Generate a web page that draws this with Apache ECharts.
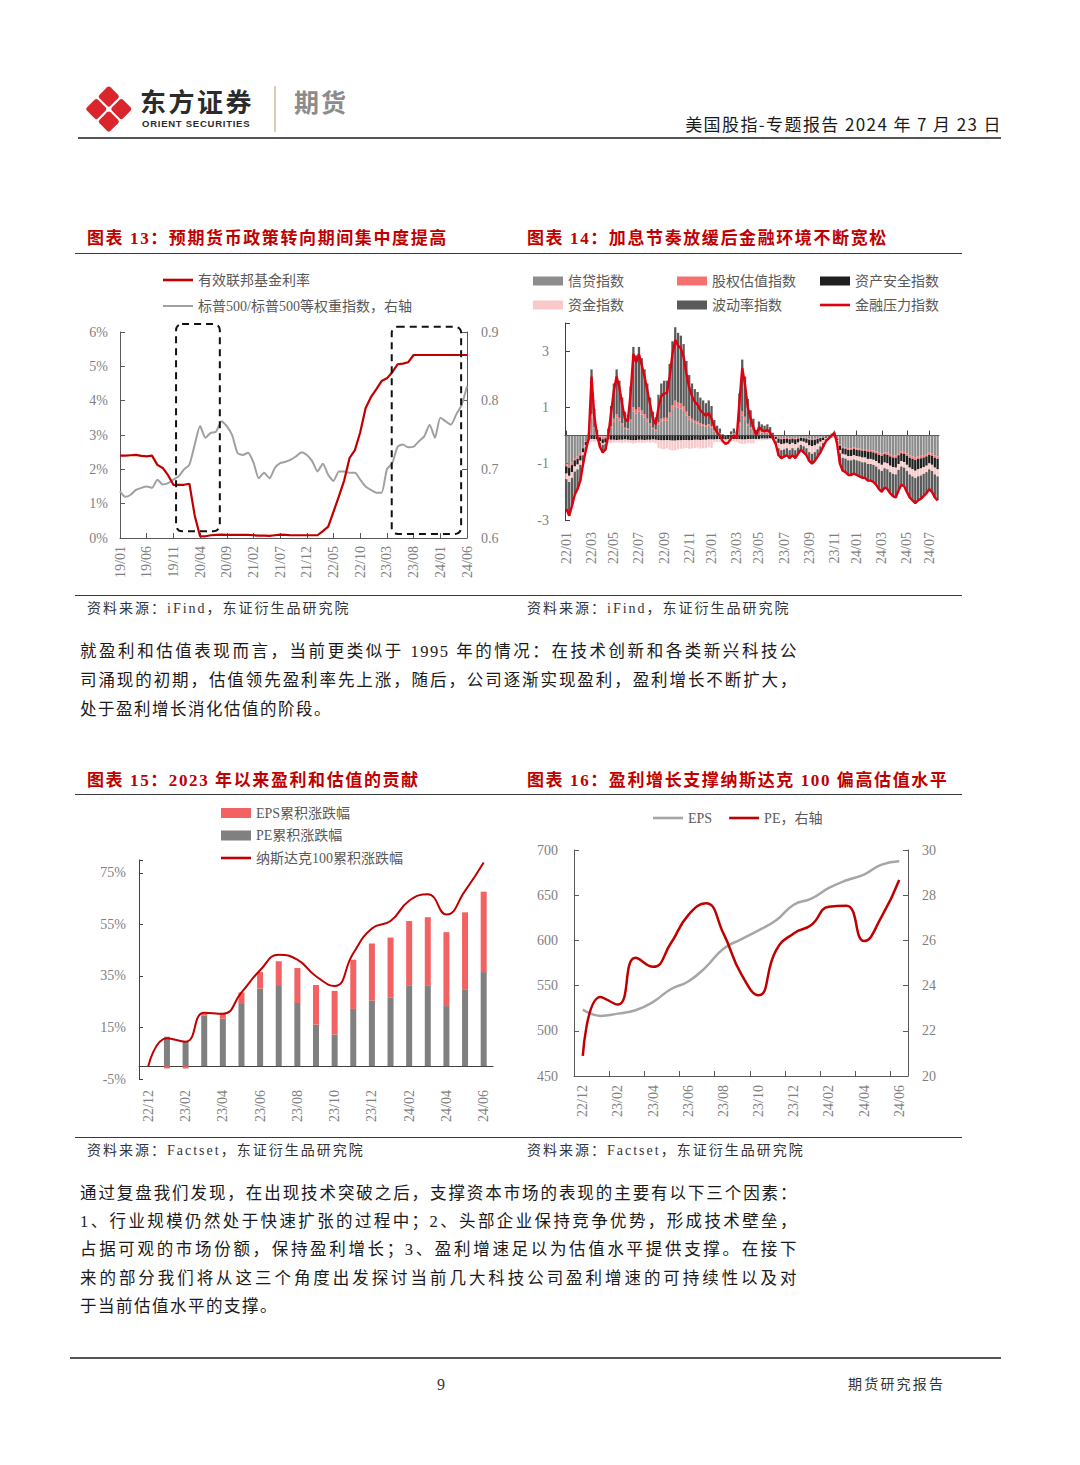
<!DOCTYPE html>
<html><head><meta charset="utf-8">
<script src="https://cdn.jsdelivr.net/npm/echarts@6.0.0/dist/echarts.min.js"></script>
<style>
html,body{margin:0;padding:0;background:#fff;}
#page{position:relative;width:1080px;height:1465px;overflow:hidden;background:#fff;}
#chart{position:absolute;left:0;top:0;width:1080px;height:1465px;}
.ab{position:absolute;white-space:nowrap;line-height:1;font-family:'Liberation Serif','Noto Sans CJK SC',serif;color:#1a1a1a;}
.rule{position:absolute;height:1px;background:#3a3a3a;}
.title{font-size:17px;font-weight:bold;color:#C00000;letter-spacing:1.6px;}
.src{font-size:14px;letter-spacing:2px;color:#333;}
.p{font-size:16.5px;letter-spacing:1.5px;width:718px;left:80px;}
.j{text-align:justify;text-align-last:justify;}
</style></head>
<body>
<div id="page">
<div id="chart"></div>

<!-- header -->
<svg class="ab" style="left:80px;top:80px" width="60" height="60" viewBox="80 80 60 60">
  <g fill="#D9262C">
    <rect x="-7.8" y="-7.8" width="15.6" height="15.6" rx="2.5" transform="translate(108.8,96.6) rotate(45)"/>
    <rect x="-7.8" y="-7.8" width="15.6" height="15.6" rx="2.5" transform="translate(121.3,109.1) rotate(45)"/>
    <rect x="-7.8" y="-7.8" width="15.6" height="15.6" rx="2.5" transform="translate(108.8,121.6) rotate(45)"/>
    <rect x="-7.8" y="-7.8" width="15.6" height="15.6" rx="2.5" transform="translate(96.3,109.1) rotate(45)"/>
  </g>
</svg>
<div class="ab" style="left:140px;top:88px;font-family:'Noto Sans CJK SC';font-weight:bold;font-size:26px;letter-spacing:2.5px;color:#2b2b2b">东方证券</div>
<div class="ab" style="left:142px;top:118.5px;font-family:'Liberation Sans',Arial,sans-serif;font-weight:bold;font-size:9.5px;letter-spacing:0.75px;color:#2b2b2b">ORIENT SECURITIES</div>
<div class="ab" style="left:274px;top:86px;width:1.5px;height:46px;background:#d8cfb6"></div>
<div class="ab" style="left:294px;top:89px;font-family:'Noto Sans CJK SC';font-weight:bold;font-size:25px;letter-spacing:2px;color:#8c8c8c">期货</div>
<div class="ab" style="right:78px;top:115px;font-family:'Noto Sans CJK SC';font-size:17px;letter-spacing:1.4px;color:#1a1a1a">美国股指-专题报告 2024 年 7 月 23 日</div>
<div class="ab" style="left:78px;top:137px;width:923px;height:2px;background:#555"></div>

<!-- section 1 -->
<div class="ab title" style="left:87px;top:229.5px">图表 13：预期货币政策转向期间集中度提高</div>
<div class="ab title" style="left:527px;top:229.5px">图表 14：加息节奏放缓后金融环境不断宽松</div>
<div class="rule" style="left:75px;top:252.5px;width:887px"></div>
<div class="rule" style="left:75px;top:594.5px;width:887px"></div>
<div class="ab src" style="left:87px;top:602px">资料来源：iFind，东证衍生品研究院</div>
<div class="ab src" style="left:527px;top:602px">资料来源：iFind，东证衍生品研究院</div>

<div class="ab p j" style="top:643.5px">就盈利和估值表现而言，当前更类似于 1995 年的情况：在技术创新和各类新兴科技公</div>
<div class="ab p j" style="top:672.5px">司涌现的初期，估值领先盈利率先上涨，随后，公司逐渐实现盈利，盈利增长不断扩大，</div>
<div class="ab p" style="top:701.5px">处于盈利增长消化估值的阶段。</div>

<!-- section 2 -->
<div class="ab title" style="left:87px;top:771.5px">图表 15：2023 年以来盈利和估值的贡献</div>
<div class="ab title" style="left:527px;top:771.5px">图表 16：盈利增长支撑纳斯达克 100 偏高估值水平</div>
<div class="rule" style="left:75px;top:793.5px;width:887px"></div>
<div class="rule" style="left:75px;top:1136.5px;width:887px"></div>
<div class="ab src" style="left:87px;top:1144px">资料来源：Factset，东证衍生品研究院</div>
<div class="ab src" style="left:527px;top:1144px">资料来源：Factset，东证衍生品研究院</div>

<div class="ab p j" style="top:1185.5px">通过复盘我们发现，在出现技术突破之后，支撑资本市场的表现的主要有以下三个因素：</div>
<div class="ab p j" style="top:1213.5px">1、行业规模仍然处于快速扩张的过程中；2、头部企业保持竞争优势，形成技术壁垒，</div>
<div class="ab p j" style="top:1241.5px">占据可观的市场份额，保持盈利增长；3、盈利增速足以为估值水平提供支撑。在接下</div>
<div class="ab p j" style="top:1270.5px">来的部分我们将从这三个角度出发探讨当前几大科技公司盈利增速的可持续性以及对</div>
<div class="ab p" style="top:1298.5px">于当前估值水平的支撑。</div>

<!-- footer -->
<div class="ab" style="left:70px;top:1357px;width:931px;height:2px;background:#555"></div>
<div class="ab" style="left:437px;top:1377px;font-size:16px;color:#333">9</div>
<div class="ab" style="left:848px;top:1378px;font-size:14px;letter-spacing:2.2px;color:#333">期货研究报告</div>
</div>

<script>
const SERIF = "'Liberation Serif','Noto Sans CJK SC',serif";

/* ---------- Chart 13 data ---------- */
const months13 = [];
for (let y = 19; y <= 24; y++) for (let m = 1; m <= 12; m++) { if (y === 24 && m > 6) break; months13.push(y + '/' + String(m).padStart(2, '0')); }
const fedRate13 = [
  2.40,2.40,2.41,2.42,2.39,2.38,2.40,2.13,2.04,1.83,1.55,1.55,
  1.55,1.58,0.65,0.05,0.05,0.08,0.09,0.10,0.09,0.09,0.09,0.09,
  0.09,0.08,0.07,0.07,0.06,0.08,0.10,0.09,0.08,0.08,0.08,0.08,
  0.08,0.08,0.20,0.33,0.77,1.21,1.68,2.33,2.56,3.08,3.78,4.10,
  4.33,4.57,4.65,4.83,5.06,5.08,5.12,5.33,5.33,5.33,5.33,5.33,
  5.33,5.33,5.33,5.33,5.33,5.33];
const spxRatio13 = [
  0.668,0.660,0.663,0.670,0.673,0.675,0.673,0.685,0.678,0.680,0.685,0.690,
  0.700,0.707,0.736,0.763,0.746,0.753,0.755,0.770,0.763,0.750,0.724,0.721,
  0.724,0.710,0.687,0.695,0.687,0.702,0.709,0.711,0.714,0.719,0.725,0.721,
  0.712,0.697,0.708,0.692,0.683,0.697,0.697,0.695,0.695,0.685,0.675,0.670,
  0.666,0.666,0.700,0.709,0.733,0.736,0.732,0.733,0.741,0.748,0.765,0.746,
  0.775,0.770,0.765,0.780,0.794,0.821];
// dashed highlight boxes: category index range and % range
const boxes13 = [
  {from: 10.5, to: 18.7, low: 0.2, high: 6.23},
  {from: 50.9, to: 63.9, low: 0.12, high: 6.15}
];

/* ---------- Chart 14 data (weekly, from 2022-01-03) ---------- */
const credit14 = [
  -1.0,-1.05,-0.95,-0.8,-0.75,-0.65,-0.4,-0.2,0.05,
  0.64,0.26,0.05,-0.02,-0.04,-0.03,0.08,0.29,0.51,0.64,0.53,0.37,0.24,0.21,0.48,0.85,0.78,0.85,0.75,0.64,0.51,0.37,0.24,0.18,
  0.40,0.51,0.53,0.53,0.69,0.91,1.04,0.99,0.96,0.88,0.72,0.58,0.51,0.45,0.42,0.37,0.35,0.31,0.35,0.29,
  0.15,0.10,0.08,0.01,-0.01,0,0.04,0.08,0.04,0.40,0.72,0.56,0.35,0.24,0.16,0.05,0.13,0.11,0.10,0.11,0.08,0.02,
  -0.04,-0.08,-0.10,-0.09,-0.08,-0.10,-0.08,-0.10,-0.08,-0.06,-0.07,-0.08,-0.11,-0.12,-0.11,-0.09,-0.07,-0.05,-0.02,-0.01,0.05,0.12,
  -0.10,-0.32,-0.40,-0.42,-0.45,-0.45,-0.43,-0.45,-0.46,-0.48,-0.48,-0.51,-0.51,-0.53,-0.56,-0.61,-0.64,-0.59,-0.61,-0.66,-0.69,-0.70,-0.62,-0.56,-0.58,-0.64,-0.70,-0.74,-0.77,-0.74,-0.72,-0.69,-0.66,-0.61,-0.64,-0.70,-0.74];
const equity14 = [
  -0.1,-0.1,-0.1,-0.08,-0.08,-0.06,-0.05,-0.03,0.02,
  0.12,0.05,0.01,-0.04,-0.09,-0.07,0.01,0.05,0.09,0.12,0.10,0.07,0.04,0.04,0.09,0.16,0.14,0.16,0.14,0.12,0.09,0.07,0.04,0.03,
  0.07,0.09,0.10,0.10,0.13,0.17,0.20,0.18,0.18,0.17,0.13,0.11,0.09,0.08,0.08,0.07,0.06,0.06,0.06,0.05,
  0.03,0.02,0.01,0.01,-0.01,0,0.01,0.01,0.01,0.08,0.14,0.11,0.07,0.05,0.03,0.01,0.03,0.02,0.02,0.02,0.02,0.01,
  -0.01,-0.03,-0.03,-0.03,-0.03,-0.03,-0.03,-0.03,-0.03,-0.02,-0.02,-0.03,-0.04,-0.04,-0.04,-0.03,-0.02,-0.02,-0.01,0,0.02,0.03,
  -0.01,-0.04,-0.05,-0.05,-0.06,-0.06,-0.05,-0.06,-0.06,-0.06,-0.06,-0.06,-0.06,-0.07,-0.07,-0.08,-0.08,-0.07,-0.08,-0.08,-0.09,-0.09,-0.08,-0.07,-0.07,-0.08,-0.09,-0.09,-0.10,-0.09,-0.09,-0.09,-0.08,-0.08,-0.08,-0.09,-0.09];
const safety14 = [
  -0.25,-0.28,-0.25,-0.22,-0.2,-0.18,-0.15,-0.12,-0.1,
  -0.12,-0.13,-0.14,-0.15,-0.15,-0.15,-0.14,-0.15,-0.15,-0.16,-0.15,-0.15,-0.14,-0.15,-0.16,-0.17,-0.16,-0.15,-0.15,-0.16,-0.15,-0.15,-0.14,-0.15,
  -0.16,-0.17,-0.17,-0.16,-0.17,-0.18,-0.18,-0.17,-0.17,-0.16,-0.16,-0.17,-0.16,-0.15,-0.15,-0.16,-0.15,-0.15,-0.14,-0.14,
  -0.14,-0.13,-0.13,-0.13,-0.12,-0.12,-0.12,-0.12,-0.12,-0.13,-0.14,-0.14,-0.13,-0.13,-0.12,-0.12,-0.12,-0.11,-0.11,-0.11,-0.10,-0.10,
  -0.07,-0.15,-0.18,-0.17,-0.15,-0.18,-0.15,-0.18,-0.14,-0.11,-0.13,-0.15,-0.20,-0.22,-0.20,-0.17,-0.13,-0.09,-0.05,-0.03,-0.03,-0.02,
  -0.05,-0.16,-0.20,-0.21,-0.22,-0.22,-0.22,-0.22,-0.23,-0.24,-0.24,-0.26,-0.26,-0.26,-0.28,-0.30,-0.32,-0.30,-0.30,-0.33,-0.34,-0.35,-0.31,-0.28,-0.29,-0.32,-0.35,-0.37,-0.38,-0.37,-0.36,-0.34,-0.33,-0.30,-0.32,-0.35,-0.37];
const funding14 = [
  -0.2,-0.22,-0.2,-0.18,-0.17,-0.15,-0.1,-0.05,0.0,
  -0.1,-0.1,-0.05,-0.05,-0.05,-0.05,-0.1,-0.12,-0.1,-0.08,-0.1,-0.11,-0.1,-0.09,-0.1,-0.12,-0.1,-0.1,-0.11,-0.1,-0.09,-0.1,-0.1,-0.12,
  -0.28,-0.3,-0.32,-0.3,-0.33,-0.35,-0.34,-0.32,-0.3,-0.3,-0.28,-0.3,-0.3,-0.3,-0.28,-0.3,-0.3,-0.3,-0.28,-0.3,
  -0.1,-0.1,-0.09,-0.1,-0.11,-0.1,-0.1,-0.09,-0.1,-0.15,-0.16,-0.15,-0.14,-0.15,-0.15,-0.05,-0.05,-0.06,-0.05,-0.05,-0.04,-0.05,
  -0.08,-0.19,-0.21,-0.2,-0.19,-0.21,-0.19,-0.21,-0.18,-0.14,-0.16,-0.19,-0.24,-0.27,-0.24,-0.2,-0.16,-0.11,-0.05,-0.03,-0.02,-0.01,
  -0.03,-0.11,-0.14,-0.14,-0.15,-0.15,-0.15,-0.15,-0.16,-0.17,-0.17,-0.18,-0.18,-0.18,-0.19,-0.21,-0.22,-0.20,-0.21,-0.23,-0.24,-0.24,-0.21,-0.19,-0.20,-0.22,-0.24,-0.25,-0.26,-0.25,-0.25,-0.24,-0.23,-0.21,-0.22,-0.24,-0.25];
const vol14 = [
  -1.05,-1.2,-1.0,-0.82,-0.7,-0.56,-0.3,-0.1,-0.07,
  1.59,0.64,0.14,-0.14,-0.27,-0.20,0.16,0.71,1.25,1.59,1.32,0.91,0.57,0.50,1.18,2.14,1.93,2.14,1.86,1.59,1.25,0.91,0.57,0.44,
  0.98,1.25,1.32,1.32,1.73,2.27,2.61,2.48,2.41,2.20,1.80,1.46,1.25,1.12,1.05,0.91,0.84,0.78,0.84,0.71,
  0.37,0.23,0.16,0.03,-0.03,0,0.10,0.16,0.10,1.02,1.84,1.43,0.88,0.61,0.41,0.14,0.34,0.27,0.23,0.27,0.20,0.07,
  -0.10,-0.25,-0.28,-0.26,-0.25,-0.28,-0.25,-0.28,-0.22,-0.17,-0.22,-0.25,-0.31,-0.35,-0.31,-0.26,-0.22,-0.13,-0.07,-0.03,-0.02,-0.02,
  -0.11,-0.37,-0.46,-0.48,-0.52,-0.52,-0.50,-0.52,-0.54,-0.55,-0.55,-0.59,-0.59,-0.61,-0.65,-0.70,-0.74,-0.69,-0.70,-0.75,-0.79,-0.82,-0.73,-0.65,-0.66,-0.74,-0.82,-0.85,-0.89,-0.85,-0.83,-0.79,-0.75,-0.70,-0.74,-0.82,-0.85];
const stress14 = [
  -2.6,-2.85,-2.5,-2.1,-1.9,-1.6,-1.0,-0.5,-0.1,
  2.1,0.7,0.0,-0.4,-0.6,-0.5,0.0,0.8,1.6,2.1,1.7,1.1,0.6,0.5,1.5,2.9,2.6,2.9,2.5,2.1,1.6,1.1,0.6,0.4,
  1.0,1.4,1.5,1.5,2.1,2.9,3.4,3.2,3.1,2.8,2.2,1.7,1.4,1.2,1.1,0.9,0.8,0.7,0.8,0.6,
  0.3,0.1,0.0,-0.2,-0.3,-0.25,-0.1,0.0,-0.1,1.2,2.4,1.8,1.0,0.6,0.3,0.0,0.3,0.2,0.15,0.2,0.1,-0.1,
  -0.3,-0.7,-0.8,-0.75,-0.7,-0.8,-0.7,-0.8,-0.65,-0.5,-0.6,-0.7,-0.9,-1.0,-0.9,-0.75,-0.6,-0.4,-0.2,-0.1,0.0,0.1,
  -0.3,-1.0,-1.25,-1.3,-1.4,-1.4,-1.35,-1.4,-1.45,-1.5,-1.5,-1.6,-1.6,-1.65,-1.75,-1.9,-2.0,-1.85,-1.9,-2.05,-2.15,-2.2,-1.95,-1.75,-1.8,-2.0,-2.2,-2.3,-2.4,-2.3,-2.25,-2.15,-2.05,-1.9,-2.0,-2.2,-2.3];
const weeks14 = stress14.map((_, i) => new Date(Date.UTC(2022, 0, 3 + 7 * i)).toISOString().slice(0, 10));

/* ---------- Chart 15 / 16 data ---------- */
const months15 = ['22/12','23/01','23/02','23/03','23/04','23/05','23/06','23/07','23/08','23/09','23/10','23/11','23/12','24/01','24/02','24/03','24/04','24/05','24/06'];
const pe15  = [0, 11.4, 9.8, 19.7, 18.4, 24.1, 30.1, 31.1, 24.5, 16.1, 12.3, 22.2, 25.4, 26.7, 31.4, 31.4, 23.3, 29.6, 36.5];
const eps15 = [0, -0.9, -0.9, 0.6, 1.9, 4.5, 6.4, 9.6, 13.6, 15.4, 16.9, 19.1, 22.2, 23.2, 24.9, 26.4, 28.7, 30.1, 31.2];
const ndx15 = [0, 10.8, 9.5, 20.7, 20.3, 28.6, 37.2, 43.2, 41.3, 34.9, 31.1, 43.8, 53.4, 56.3, 64.2, 66.7, 58.8, 68.0, 79.0];
const eps16 = [523.5, 516.5, 519, 522.7, 532, 546, 554.6, 570.5, 590.8, 601.1, 611.1, 622.2, 639.5, 646.2, 658, 666.5, 672.8, 683.9, 687.6];
const pe16  = [20.89, 23.5, 23.16, 25.23, 24.83, 25.86, 27.12, 27.64, 26.31, 24.53, 23.57, 25.57, 26.31, 26.68, 27.49, 27.53, 25.97, 27.05, 28.67];

/* ---------- build ---------- */
const showWeek = (i) => {
  if (i === 0) return true;
  const m = +weeks14[i].slice(5, 7), pm = +weeks14[i - 1].slice(5, 7);
  return m !== pm && m % 2 === 1;
};
const AX = '#595959';
const axLine = (c) => ({show: true, onZero: false, lineStyle: {color: c || AX, width: 1}});
const lab = (extra) => Object.assign({color: '#7f7f7f', fontSize: 14, fontFamily: SERIF}, extra || {});
const tickIn = (extra) => Object.assign({show: true, inside: true, length: 5, lineStyle: {color: AX}}, extra || {});
const legText = {color: '#595959', fontSize: 14, fontFamily: SERIF, lineHeight: 14};
const noSplit = {show: false};
const LINE_ICON = 'path://M0,0H30V2.6H0Z';
const LINE_ICON_THIN = 'path://M0,0H30V2H0Z';

const chart = echarts.init(document.getElementById('chart'), null, {renderer: 'svg', width: 1080, height: 1465});

const legBase = {padding: 0, selectedMode: false, textStyle: legText, itemWidth: 30, symbolKeepAspect: true};
const option = {
  animation: false,
  backgroundColor: 'transparent',
  textStyle: {fontFamily: SERIF},
  grid: [
    {left: 120, top: 332, width: 347, height: 206, containLabel: false, outerBoundsMode: 'none'},
    {left: 565, top: 323, width: 374, height: 197, containLabel: false, outerBoundsMode: 'none'},
    {left: 139, top: 860, width: 354, height: 219, containLabel: false, outerBoundsMode: 'none'},
    {left: 574, top: 850, width: 334, height: 226, containLabel: false, outerBoundsMode: 'none'}
  ],
  xAxis: [
    {gridIndex: 0, type: 'category', data: months13, boundaryGap: false, position: 'bottom',
     axisLine: axLine(), axisTick: tickIn({interval: 4}), axisLabel: lab({rotate: 90, interval: 4, margin: 8}), splitLine: noSplit},
    {gridIndex: 1, type: 'category', data: weeks14, boundaryGap: true, position: 'bottom',
     axisLine: {show: false, onZero: false}, axisTick: {show: false},
     axisLabel: lab({rotate: 90, interval: (i) => showWeek(i), margin: 12, formatter: (v) => v.slice(2, 4) + '/' + v.slice(5, 7)}), splitLine: noSplit},
    {gridIndex: 1, type: 'category', data: weeks14, boundaryGap: true, position: 'bottom',
     axisLine: {show: true, onZero: true, lineStyle: {color: '#404040'}},
     axisTick: {show: true, inside: true, length: 5, alignWithLabel: true, interval: (i) => showWeek(i), lineStyle: {color: '#404040'}},
     axisLabel: {show: false}, splitLine: noSplit},
    {gridIndex: 2, type: 'category', data: months15, boundaryGap: true, position: 'bottom',
     axisLine: {show: false, onZero: false}, axisTick: {show: false}, axisLabel: lab({rotate: 90, interval: 1, margin: 11}), splitLine: noSplit},
    {gridIndex: 2, type: 'category', data: months15, boundaryGap: true, position: 'bottom',
     axisLine: {show: true, onZero: true, lineStyle: {color: '#404040'}}, axisTick: {show: false}, axisLabel: {show: false}, splitLine: noSplit},
    {gridIndex: 3, type: 'category', data: months15, boundaryGap: true, position: 'bottom',
     axisLine: axLine(), axisTick: tickIn({interval: 1}), axisLabel: lab({rotate: 90, interval: 1, margin: 9}), splitLine: noSplit}
  ],
  yAxis: [
    {gridIndex: 0, type: 'value', min: 0, max: 6, interval: 1, axisLine: axLine(), axisTick: tickIn(),
     axisLabel: lab({formatter: '{value}%', margin: 12}), splitLine: noSplit},
    {gridIndex: 0, type: 'value', position: 'right', min: 0.6, max: 0.9, interval: 0.1, axisLine: axLine(), axisTick: tickIn(),
     axisLabel: lab({formatter: (v) => v.toFixed(1), margin: 14}), splitLine: noSplit},
    {gridIndex: 1, type: 'value', min: -3, max: 4, interval: 2, axisLine: axLine('#404040'), axisTick: tickIn({lineStyle: {color: '#404040'}}),
     axisLabel: lab({formatter: (v) => (v === 4 ? '' : String(v)), margin: 16}), splitLine: noSplit},
    {gridIndex: 2, type: 'value', min: -5, max: 80, interval: 20, axisLine: axLine('#404040'), axisTick: tickIn({length: 4, lineStyle: {color: '#404040'}}),
     axisLabel: lab({formatter: (v) => (v === 80 ? '' : v + '%'), margin: 13}), splitLine: noSplit},
    {gridIndex: 3, type: 'value', min: 450, max: 700, interval: 50, axisLine: axLine(), axisTick: tickIn(),
     axisLabel: lab({margin: 16}), splitLine: noSplit},
    {gridIndex: 3, type: 'value', position: 'right', min: 20, max: 30, interval: 2, axisLine: axLine(), axisTick: tickIn(),
     axisLabel: lab({margin: 14}), splitLine: noSplit}
  ],
  legend: [
    Object.assign({}, legBase, {left: 163, top: 273, orient: 'vertical', itemHeight: 14, itemGap: 12,
     data: [{name: '有效联邦基金利率', icon: LINE_ICON}, {name: '标普500/标普500等权重指数，右轴', icon: LINE_ICON_THIN}]}),
    Object.assign({}, legBase, {left: 533, top: 274, orient: 'vertical', itemHeight: 9, itemGap: 10,
     data: [{name: '信贷指数', icon: 'rect'}, {name: '资金指数', icon: 'rect'}]}),
    Object.assign({}, legBase, {left: 677, top: 274, orient: 'vertical', itemHeight: 9, itemGap: 10,
     data: [{name: '股权估值指数', icon: 'rect'}, {name: '波动率指数', icon: 'rect'}]}),
    Object.assign({}, legBase, {left: 820, top: 274, orient: 'vertical', itemHeight: 9, itemGap: 10,
     data: [{name: '资产安全指数', icon: 'rect'}, {name: '金融压力指数', icon: LINE_ICON}]}),
    Object.assign({}, legBase, {left: 221, top: 806, orient: 'vertical', itemHeight: 10, itemGap: 8.5,
     data: [{name: 'EPS累积涨跌幅', icon: 'rect'}, {name: 'PE累积涨跌幅', icon: 'rect'}, {name: '纳斯达克100累积涨跌幅', icon: LINE_ICON}]}),
    Object.assign({}, legBase, {left: 653, top: 811, orient: 'horizontal', itemHeight: 14, itemGap: 17,
     data: [{name: 'EPS', icon: LINE_ICON}, {name: 'PE，右轴', icon: LINE_ICON}]})
  ],
  series: [
    {name: '有效联邦基金利率', type: 'line', xAxisIndex: 0, yAxisIndex: 0, data: fedRate13, symbol: 'none',
     lineStyle: {color: '#C00000', width: 2.2}, itemStyle: {color: '#C00000'}, z: 4},
    {name: '标普500/标普500等权重指数，右轴', type: 'line', xAxisIndex: 0, yAxisIndex: 1, data: spxRatio13, symbol: 'none', smooth: 0.2,
     lineStyle: {color: '#A0A0A0', width: 2}, itemStyle: {color: '#A0A0A0'}, z: 3},

    {name: '信贷指数', type: 'bar', xAxisIndex: 1, yAxisIndex: 2, stack: 'fci', data: credit14, barCategoryGap: '18%', itemStyle: {color: '#8C8C8C'}},
    {name: '股权估值指数', type: 'bar', xAxisIndex: 1, yAxisIndex: 2, stack: 'fci', data: equity14, itemStyle: {color: '#F4716F'}},
    {name: '资产安全指数', type: 'bar', xAxisIndex: 1, yAxisIndex: 2, stack: 'fci', data: safety14, itemStyle: {color: '#1F1F1F'}},
    {name: '资金指数', type: 'bar', xAxisIndex: 1, yAxisIndex: 2, stack: 'fci', data: funding14, itemStyle: {color: '#F9C9C9'}},
    {name: '波动率指数', type: 'bar', xAxisIndex: 1, yAxisIndex: 2, stack: 'fci', data: vol14, itemStyle: {color: '#5A5A5A'}},
    {name: '金融压力指数', type: 'line', xAxisIndex: 1, yAxisIndex: 2, data: stress14, symbol: 'none',
     lineStyle: {color: '#E0000F', width: 2.4}, itemStyle: {color: '#E0000F'}, z: 5},

    {name: 'PE累积涨跌幅', type: 'bar', xAxisIndex: 3, yAxisIndex: 3, stack: 'ndx', data: pe15, barWidth: 6, itemStyle: {color: '#808080'}},
    {name: 'EPS累积涨跌幅', type: 'bar', xAxisIndex: 3, yAxisIndex: 3, stack: 'ndx', data: eps15, barWidth: 6, itemStyle: {color: '#F26262'}},
    {name: '纳斯达克100累积涨跌幅', type: 'line', xAxisIndex: 3, yAxisIndex: 3, data: ndx15, symbol: 'none', smooth: true,
     lineStyle: {color: '#C00000', width: 2}, itemStyle: {color: '#C00000'}, z: 5},

    {name: 'EPS', type: 'line', xAxisIndex: 5, yAxisIndex: 4, data: eps16, symbol: 'none', smooth: true,
     lineStyle: {color: '#A6A6A6', width: 2.5}, itemStyle: {color: '#A6A6A6'}},
    {name: 'PE，右轴', type: 'line', xAxisIndex: 5, yAxisIndex: 5, data: pe16, symbol: 'none', smooth: true,
     lineStyle: {color: '#C00000', width: 2.5}, itemStyle: {color: '#C00000'}}
  ]
};
chart.setOption(option);

// dashed highlight boxes in chart 13, placed through the chart's own scales
function px13(ix, v) {
  const f = Math.floor(ix);
  const a = chart.convertToPixel({xAxisIndex: 0, yAxisIndex: 0}, [f, v]);
  const b = chart.convertToPixel({xAxisIndex: 0, yAxisIndex: 0}, [f + 1, v]);
  return [a[0] + (b[0] - a[0]) * (ix - f), a[1]];
}
const boxGraphics = boxes13.map((b) => {
  const p0 = px13(b.from, b.high), p1 = px13(b.to, b.low);
  return {type: 'rect', z: 100, silent: true,
    shape: {x: p0[0], y: p0[1], width: p1[0] - p0[0], height: p1[1] - p0[1], r: 6},
    style: {fill: 'none', stroke: '#111', lineWidth: 2, lineDash: [7, 5]}};
});
chart.setOption({graphic: boxGraphics});
</script>
</body></html>
